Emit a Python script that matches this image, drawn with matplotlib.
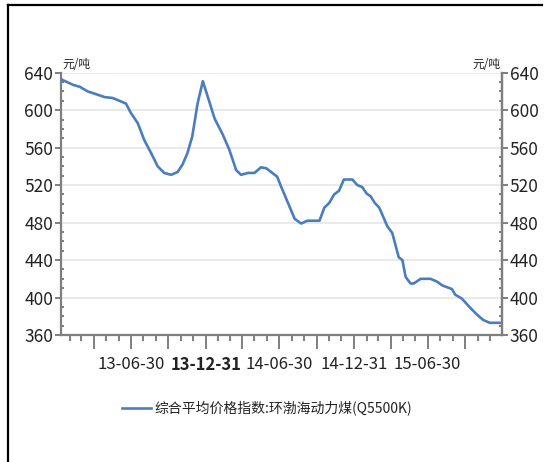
import matplotlib
matplotlib.use("Agg")
import matplotlib.pyplot as plt
import matplotlib.dates as mdates
from matplotlib.lines import Line2D
from matplotlib.ticker import FixedLocator, MultipleLocator, FuncFormatter
import pandas as pd

plt.rcParams['font.family'] = ['Noto Sans CJK SC', 'DejaVu Sans']

# 综合平均价格指数:环渤海动力煤(Q5500K), 元/吨
dates = [
    "2013-01-09", "2013-02-08", "2013-02-24", "2013-03-16", "2013-04-06",
    "2013-04-26", "2013-05-16", "2013-06-02", "2013-06-18", "2013-06-30",
    "2013-07-17", "2013-08-02", "2013-08-19", "2013-09-04", "2013-09-20",
    "2013-10-07", "2013-10-23", "2013-11-04", "2013-11-16", "2013-11-28",
    "2013-12-11", "2013-12-24", "2014-01-09", "2014-01-22", "2014-02-11",
    "2014-02-27", "2014-03-16", "2014-03-28", "2014-04-14", "2014-04-30",
    "2014-05-16", "2014-05-29", "2014-06-25", "2014-07-05", "2014-08-07",
    "2014-08-23", "2014-09-07", "2014-10-07", "2014-10-19", "2014-10-31",
    "2014-11-12", "2014-11-24", "2014-12-06", "2014-12-27", "2015-01-08",
    "2015-01-20", "2015-01-31", "2015-02-10", "2015-02-20", "2015-03-03",
    "2015-03-23", "2015-04-04", "2015-04-20", "2015-04-29", "2015-05-07",
    "2015-05-19", "2015-05-27", "2015-06-13", "2015-07-07", "2015-07-23",
    "2015-08-05", "2015-08-29", "2015-09-06", "2015-09-22", "2015-10-13",
    "2015-10-29", "2015-11-14", "2015-11-30", "2015-12-30",
]
prices = [
    633, 627, 625, 620, 617,
    614, 613, 610, 607, 597,
    586, 568, 554, 540, 533,
    531, 534, 542, 554, 572,
    607, 631, 609, 591, 574,
    558, 536, 531, 533, 533,
    539, 538, 529, 518, 484,
    479, 482, 482, 496, 501,
    510, 514, 526, 526, 520,
    518, 511, 508, 501, 496,
    476, 469, 443, 440, 422,
    415, 415, 420, 420, 417,
    413, 409, 403, 399, 389,
    382, 376, 373, 373,
]
series_name = "综合平均价格指数:环渤海动力煤(Q5500K)"
unit = "元/吨"
y_ticks = [360, 400, 440, 480, 520, 560, 600, 640]

x = pd.to_datetime(dates)

fig = plt.figure(figsize=(5.48, 4.62), dpi=100)
ax = fig.add_axes([0.1113, 0.2749, 0.8047, 0.5677])

line_color = "#4a7dbf"
spine_color = "#7f7f7f"
ax.plot(x, prices, color=line_color, lw=1.9, solid_joinstyle="round",
        label=series_name, zorder=3)

ax.set_xlim(pd.Timestamp("2013-01-09"), pd.Timestamp("2015-12-30"))
ax.set_ylim(y_ticks[0], y_ticks[-1])

# quarter ends as major ticks, month ends as minor ticks
month_ends = pd.date_range("2013-01-31", "2015-12-31", freq="ME")
quarter_ends = [d for d in month_ends if d.month in (3, 6, 9, 12)]
ax.xaxis.set_major_locator(FixedLocator(mdates.date2num(quarter_ends)))
ax.xaxis.set_minor_locator(FixedLocator(mdates.date2num(month_ends)))


def fmt_date(v, pos):
    d = mdates.num2date(v)
    return d.strftime("%y-%m-%d") if d.month in (6, 12) else ""


ax.xaxis.set_major_formatter(FuncFormatter(fmt_date))

ax.yaxis.set_major_locator(FixedLocator(y_ticks))
ax.yaxis.set_minor_locator(MultipleLocator(10))
ax.grid(axis="y", which="major", color="#e8e8e8", lw=1.3, zorder=0)

ax.spines["top"].set_visible(False)
for s in ("left", "right", "bottom"):
    ax.spines[s].set_color(spine_color)
    ax.spines[s].set_linewidth(1.6)

ax.tick_params(axis="x", which="major", direction="out", length=10, width=1.4,
               color=spine_color, labelsize=12, pad=5, labelcolor="#222222")
ax.tick_params(axis="x", which="minor", direction="out", length=4.5, width=1.4,
               color=spine_color)
ax.tick_params(axis="y", which="major", direction="out", length=4, width=1.4,
               color=spine_color, labelsize=12.5, pad=1.5, labelcolor="#222222")
ax.tick_params(axis="y", which="minor", direction="in", length=2.5, width=1.4,
               color=spine_color)

for lbl in ax.get_xticklabels():
    if lbl.get_text() == "13-12-31":
        lbl.set_fontweight("bold")

# mirrored value axis on the right
ax2 = ax.twinx()
ax2.set_ylim(ax.get_ylim())
ax2.yaxis.set_major_locator(FixedLocator(y_ticks))
ax2.yaxis.set_minor_locator(MultipleLocator(10))
for s in ("top", "left", "bottom"):
    ax2.spines[s].set_visible(False)
ax2.spines["right"].set_color(spine_color)
ax2.spines["right"].set_linewidth(1.6)
ax2.tick_params(axis="y", which="major", direction="out", length=4, width=1.4,
                color=spine_color, labelsize=12.5, pad=1.5, labelcolor="#222222")
ax2.tick_params(axis="y", which="minor", direction="in", length=2.5, width=1.4,
                color=spine_color)

ax.text(0.003, 1.005, unit, transform=ax.transAxes, fontsize=8.5,
        ha="left", va="bottom", color="#222222")
ax.text(0.997, 1.005, unit, transform=ax.transAxes, fontsize=8.5,
        ha="right", va="bottom", color="#222222")

fig.legend(handles=[Line2D([], [], color=line_color, lw=1.9)],
           labels=[series_name], loc="center",
           bbox_to_anchor=(0.488, 0.117), frameon=False, fontsize=10,
           handlelength=2.1, handletextpad=0.25, labelcolor="#222222")

# outer frame
fig.add_artist(Line2D([8 / 548, 8 / 548], [0, 1 - 5 / 462],
                      transform=fig.transFigure, color="black", lw=1.6))
fig.add_artist(Line2D([8 / 548, 542 / 548], [1 - 5 / 462, 1 - 5 / 462],
                      transform=fig.transFigure, color="black", lw=1.6))

fig.savefig("out.png", dpi=100)
